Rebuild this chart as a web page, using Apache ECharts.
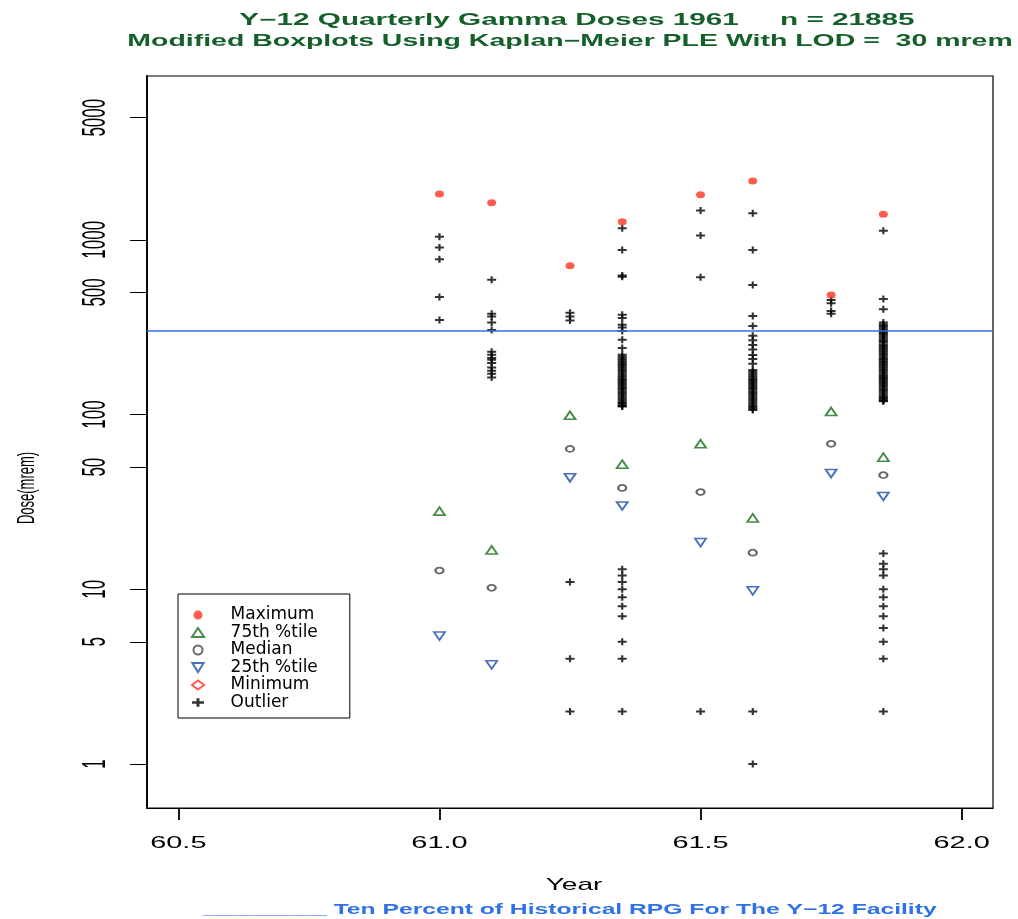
<!DOCTYPE html>
<html><head><meta charset="utf-8">
<script src="https://cdn.jsdelivr.net/npm/echarts@6/dist/echarts.min.js"></script>
<style>html,body{margin:0;padding:0;background:#fff}#c{width:1018px;height:919px}</style>
</head><body><div id="c"></div>
<script>
// ---------- data ----------
const titleLine1 = 'Y\u221212 Quarterly Gamma Doses 1961     n = 21885';
const titleLine2 = 'Modified Boxplots Using Kaplan\u2212Meier PLE With LOD =  30 mrem';
const footnote = '_________ Ten Percent of Historical RPG For The Y\u221212 Facility';
const xAxisTitle = 'Year';
const yAxisTitle = 'Dose(mrem)';
const xTickValues = [60.5, 61.0, 61.5, 62.0];
const xTickLabels = ['60.5', '61.0', '61.5', '62.0'];
const yTickValues = [1, 5, 10, 50, 100, 500, 1000, 5000];
const yTickLabels = ['1', '5', '10', '50', '100', '500', '1000', '5000'];
const legendNames = ['Maximum', '75th %tile', 'Median', '25th %tile', 'Minimum', 'Outlier'];
const rpgTenPercent = 300;

const groupYears  = [61.0, 61.1, 61.25, 61.35, 61.5, 61.6, 61.75, 61.85];
const maximumDose = [1830, 1630, 710, 1270, 1810, 2170, 484, 1400];
const q75Dose     = [28, 16.8, 99, 52, 68, 25.6, 104, 57];
const medianDose  = [12.8, 10.2, 63.6, 38, 36, 16.2, 68, 45];
const q25Dose     = [5.4, 3.7, 43.5, 30, 18.5, 9.8, 46, 34];
const minimumDose = [];

const outliers6100 = [1040, 905, 775, 470, 348];
const outliers6110 = [590, 377, 364, 336, 305, 229, 220, 211, 206, 197, 186, 178, 171, 163];
const outliers6125 = [383, 364, 345, 11, 4, 2];
const outliers6135 = [1165, 875, 625, 615, 372, 357, 326, 315, 301, 268, 240,
  220, 215, 210, 205, 200, 196, 192, 188, 184, 180, 176, 172, 168, 164, 160, 157, 154, 151, 148, 145, 142, 139, 136, 133, 130, 127, 124, 121, 118, 116, 114, 112, 111,
  13, 12, 11, 10, 9, 8, 7, 5, 4, 2];
const outliers6150 = [1470, 1057, 611, 2];
const outliers6160 = [1420, 875, 552, 367, 321, 282, 266, 250, 236, 219, 208, 195,
  180, 176, 172, 168, 164, 160, 157, 154, 151, 148, 145, 142, 139, 136, 133, 130, 127, 124, 121, 118, 115, 112, 110, 108, 106,
  2, 1];
const outliers6175 = [453, 433, 392, 377];
const outliers6185 = [1125, 459, 401,
  336, 328, 321, 314, 307, 300, 295, 289, 282, 276, 270, 264, 258, 252, 247, 242, 237, 232, 227, 222, 217, 212, 208, 204, 200, 196, 192, 188, 184, 180, 176, 172, 168, 165, 162, 159, 156, 153, 150, 147, 144, 141, 138, 135, 132, 129, 126, 124, 122, 120, 119,
  16, 14, 13, 12, 10, 9, 8, 7, 6, 5, 4, 2];
const outlierGroups = [outliers6100, outliers6110, outliers6125, outliers6135, outliers6150, outliers6160, outliers6175, outliers6185];

// ---------- build ----------
const pair = arr => groupYears.map((x, i) => [x, arr[i]]).filter(d => d[1] != null);
const outlierData = [];
outlierGroups.forEach((g, i) => g.forEach(v => outlierData.push([groupYears[i], v])));

const plusPath = 'path://M0,2.5 L10,2.5 L10,4.5 L0,4.5 Z M3.8,0 L6.2,0 L6.2,7 L3.8,7 Z';
const downTri = 'path://M0,0 L10,0 L5,8 Z';
const font = 'Liberation Sans';

const chart = echarts.init(document.getElementById('c'), null, {renderer: 'canvas'});
const option = {
  animation: false,
  backgroundColor: '#fff',
  grid: {left: 147, top: 76, right: 25, bottom: 111, show: true, borderColor: '#000', borderWidth: 1.2, outerBoundsMode: 'none', containLabel: false},
  xAxis: {
    type: 'value', min: 60.44, max: 62.06,
    splitLine: {show: false},
    axisLine: {show: true, onZero: false, lineStyle: {color: '#000', width: 1}},
    axisTick: {show: true, length: 12, customValues: xTickValues, lineStyle: {color: '#000', width: 1.8}},
    axisLabel: {show: false, customValues: xTickValues}
  },
  yAxis: {
    type: 'log', logBase: 10, min: 0.56, max: 8660,
    splitLine: {show: false},
    axisLine: {show: true, lineStyle: {color: '#000', width: 1.8}},
    axisTick: {show: true, length: 17, customValues: yTickValues, lineStyle: {color: '#000', width: 1}},
    axisLabel: {show: false, customValues: yTickValues}
  },
  legend: {
    left: 178, top: 594, orient: 'vertical', selectedMode: false,
    padding: [12.5, 32, 7, 13], itemWidth: 12, itemHeight: 9, itemGap: 0.5,
    borderColor: '#000', borderWidth: 1, backgroundColor: '#fff',
    textStyle: {fontFamily: 'DejaVu Sans', fontSize: 17, color: '#000'},
    formatter: n => '    ' + n,
    data: legendNames
  },
  series: [
    {name: 'Maximum', type: 'scatter', symbol: 'circle', symbolSize: [9, 7], itemStyle: {color: '#ff3322'}, emphasis: {disabled: true}, data: pair(maximumDose), z: 5},
    {name: '75th %tile', type: 'scatter', symbol: 'triangle', symbolSize: [11, 8], itemStyle: {color: 'transparent', borderColor: '#17701a', borderWidth: 1.8}, emphasis: {disabled: true}, data: pair(q75Dose)},
    {name: 'Median', type: 'scatter', symbol: 'circle', symbolSize: [8, 6], itemStyle: {color: 'transparent', borderColor: '#444', borderWidth: 2}, emphasis: {disabled: true}, data: pair(medianDose)},
    {name: '25th %tile', type: 'scatter', symbol: downTri, symbolSize: [11, 8], itemStyle: {color: 'transparent', borderColor: '#1d4ea8', borderWidth: 1.8}, emphasis: {disabled: true}, data: pair(q25Dose)},
    {name: 'Minimum', type: 'scatter', symbol: 'diamond', symbolSize: [12, 9], itemStyle: {color: 'transparent', borderColor: '#ff3322', borderWidth: 1.6}, emphasis: {disabled: true}, data: minimumDose},
    {name: 'Outlier', type: 'scatter', symbol: plusPath, symbolSize: [9, 7], itemStyle: {color: '#000'}, emphasis: {disabled: true}, data: outlierData,
      markLine: {silent: true, symbol: ['none', 'none'], label: {show: false}, lineStyle: {color: '#2f72e6', width: 1.5, type: 'solid', opacity: 1}, emphasis: {disabled: true}, data: [{yAxis: rpgTenPercent}]}}
  ]
};
chart.setOption(option);

// ---------- texts (stretched horizontally like the reference) ----------
const g = [];
const txt = (text, x, y, o) => Object.assign({type: 'text', x, y, silent: true,
  style: Object.assign({text, fontFamily: font, fontSize: 17, fill: '#000', align: 'center', verticalAlign: 'middle'}, o.style || {})}, o.el || {});
xTickValues.forEach((v, i) => {
  const px = chart.convertToPixel({xAxisIndex: 0}, v);
  g.push(txt(xTickLabels[i], px, 843, {el: {scaleX: 1.7}}));
});
yTickValues.forEach((v, i) => {
  const py = chart.convertToPixel({yAxisIndex: 0}, v);
  g.push(txt(yTickLabels[i], 96, py, {el: {rotation: Math.PI / 2, scaleY: 1.9}}));
});
g.push(txt(titleLine1, 577, 20, {el: {scaleX: 1.8}, style: {fontSize: 16.5, fontWeight: 'bold', fill: '#15602a'}}));
g.push(txt(titleLine2, 570, 41, {el: {scaleX: 1.725}, style: {fontSize: 16.5, fontWeight: 'bold', fill: '#15602a'}}));
g.push(txt(xAxisTitle, 574, 885, {el: {scaleX: 1.65}}));
g.push(txt(yAxisTitle, 27, 488, {el: {rotation: Math.PI / 2, scaleY: 1.9}, style: {fontSize: 13}}));
g.push(txt(footnote, 570, 910, {el: {scaleX: 1.7}, style: {fontSize: 14.5, fontWeight: 'bold', fill: '#2f72e6'}}));
chart.setOption({graphic: g});
</script></body></html>
